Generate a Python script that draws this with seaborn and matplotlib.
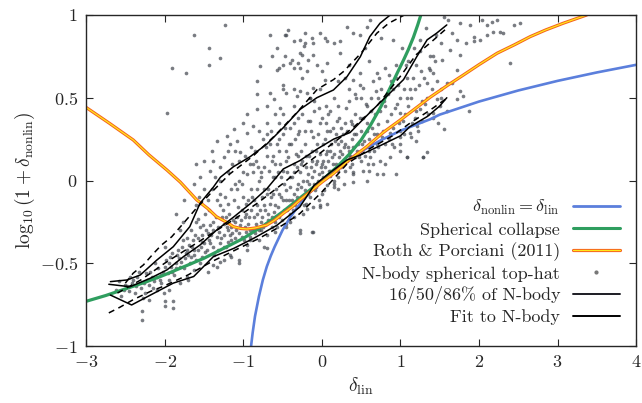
import matplotlib
matplotlib.use("Agg")
import matplotlib.pyplot as plt
import seaborn as sns
import numpy as np
from matplotlib.lines import Line2D

# linear theory: delta_nonlin = delta_lin
lin_x = [-0.9, -0.88, -0.85, -0.8, -0.75, -0.7, -0.65, -0.6, -0.5, -0.4, -0.3, -0.2, -0.1,
         0.0, 0.25, 0.5, 0.75, 1.0, 1.378, 1.5, 2.0, 2.5, 3.0, 3.5, 4.0]
lin_y = [-1.0, -0.92, -0.82, -0.70, -0.60, -0.52, -0.456, -0.40, -0.30, -0.22, -0.155,
         -0.097, -0.046, 0.0, 0.097, 0.176, 0.243, 0.301, 0.37, 0.398, 0.477, 0.544, 0.602,
         0.653, 0.699]

# spherical collapse
sc_x = [-3.0, -2.75, -2.5, -2.25, -2.0, -1.75, -1.5, -1.25, -1.0, -0.75, -0.5, -0.25, 0.0,
        0.2, 0.36, 0.5, 0.614, 0.75, 0.869, 0.96, 1.04, 1.1, 1.165, 1.22, 1.26]
sc_y = [-0.73, -0.695, -0.655, -0.615, -0.57, -0.52, -0.47, -0.41, -0.35, -0.275, -0.19,
        -0.095, 0.0, 0.085, 0.164, 0.245, 0.33, 0.445, 0.56, 0.65, 0.728, 0.79, 0.865,
        0.94, 1.0]

# Roth & Porciani (2011)
rp_x = [-3.0, -2.7, -2.4, -2.2, -1.97, -1.8, -1.59, -1.45, -1.34, -1.2, -1.125, -1.03,
        -0.95, -0.85, -0.7, -0.6, -0.49, -0.38, -0.28, -0.14, 0.0, 0.15, 0.35, 0.57, 0.78,
        1.0, 1.19, 1.378, 1.6, 1.8, 2.0, 2.23, 2.45, 2.65, 2.85, 3.07, 3.22, 3.37]
rp_y = [0.442, 0.345, 0.245, 0.155, 0.063, -0.01, -0.118, -0.17, -0.219, -0.255, -0.279,
        -0.29, -0.293, -0.287, -0.269, -0.24, -0.198, -0.16, -0.118, -0.065, -0.01, 0.043,
        0.125, 0.204, 0.29, 0.366, 0.435, 0.503, 0.575, 0.637, 0.70, 0.769, 0.82, 0.869,
        0.91, 0.95, 0.975, 1.0]

# N-body percentiles
p86_x = [-2.69, -2.48, -2.31, -2.10, -1.89, -1.68, -1.55, -1.38, -1.29, -1.125, -0.912,
         -0.70, -0.489, -0.276, -0.064, 0.148, 0.32, 0.49, 0.61, 0.74, 0.87]
p86_y = [-0.611, -0.601, -0.571, -0.481, -0.40, -0.279, -0.138, -0.04, 0.02, 0.083, 0.144,
         0.22, 0.32, 0.43, 0.50, 0.547, 0.627, 0.748, 0.869, 0.95, 1.0]
p50_x = [-2.71, -2.44, -2.18, -1.97, -1.76, -1.55, -1.34, -1.12, -0.91, -0.70, -0.49, -0.28,
         -0.06, 0.15, 0.36, 0.61, 0.87, 1.04, 1.21, 1.34, 1.46, 1.59]
p50_y = [-0.627, -0.642, -0.59, -0.54, -0.46, -0.39, -0.30, -0.22, -0.14, -0.05, 0.07, 0.12,
         0.19, 0.25, 0.29, 0.41, 0.53, 0.61, 0.75, 0.85, 0.89, 0.94]
p16_x = [-2.69, -2.42, -2.18, -1.89, -1.63, -1.38, -1.12, -0.87, -0.57, -0.28, -0.1, 0.11,
         0.32, 0.49, 0.74, 1.0, 1.12, 1.34, 1.5, 1.59]
p16_y = [-0.692, -0.752, -0.692, -0.62, -0.58, -0.46, -0.41, -0.35, -0.27, -0.16, -0.03,
         0.05, 0.124, 0.154, 0.21, 0.27, 0.325, 0.386, 0.45, 0.5]

# fits to N-body
fit_hi_x = [-2.5, -2.4, -2.27, -2.14, -2.04, -1.91, -1.80, -1.6, -1.38, -1.17, -0.87, -0.6,
            -0.3, -0.06, 0.15, 0.28, 0.5, 0.7, 0.85, 1.05]
fit_hi_y = [-0.62, -0.56, -0.51, -0.44, -0.39, -0.34, -0.28, -0.17, -0.06, 0.04, 0.15, 0.27,
            0.42, 0.55, 0.61, 0.66, 0.77, 0.89, 0.95, 1.0]
fit_mid_x = [-2.6, -2.3, -2.0, -1.7, -1.4, -1.1, -0.8, -0.5, -0.2, 0.1, 0.4, 0.7, 1.0, 1.2,
             1.4, 1.59]
fit_mid_y = [-0.68, -0.60, -0.50, -0.41, -0.32, -0.23, -0.13, -0.02, 0.10, 0.21, 0.32, 0.45,
             0.63, 0.76, 0.84, 0.92]
fit_lo_x = [-2.71, -2.57, -2.40, -2.18, -2.02, -1.7, -1.4, -1.1, -0.8, -0.5, -0.28, 0.0,
            0.32, 0.6, 0.9, 1.12, 1.38, 1.59]
fit_lo_y = [-0.80, -0.766, -0.72, -0.67, -0.64, -0.57, -0.49, -0.42, -0.35, -0.27, -0.20,
            -0.07, 0.10, 0.19, 0.27, 0.346, 0.426, 0.497]

# N-body spherical top-hat points
pts_upper = [(-1.23, 0.94), (-1.62, 0.88), (-1.43, 0.80), (-1.30, 0.74), (-1.91, 0.68),
             (-1.73, 0.65), (-1.43, 0.70), (-1.97, 0.41), (-0.83, 0.60), (-0.82, 0.52),
             (-0.66, 0.88), (-0.57, 0.80), (-0.46, 0.88), (-0.43, 0.91), (-0.36, 0.84),
             (-0.28, 0.85), (-0.21, 0.83), (-0.21, 0.89), (-0.11, 0.83), (-0.02, 0.89),
             (0.04, 0.86), (-0.55, 0.68), (-0.49, 0.70), (-0.40, 0.71), (-0.36, 0.68),
             (-0.28, 0.68), (-0.19, 0.66), (-0.64, 0.75), (-0.47, 0.75), (-0.25, 0.76),
             (-0.30, 0.71), (-0.17, 0.73), (-0.83, 0.43), (-0.70, 0.35), (-0.61, 0.49),
             (-0.53, 0.44), (-0.45, 0.53), (-0.36, 0.55), (-0.28, 0.54), (-0.19, 0.53),
             (-0.11, 0.56), (-0.02, 0.55), (0.04, 0.61), (-1.00, 0.35), (-0.95, 0.29),
             (-0.87, 0.33), (-1.08, 0.24), (-1.04, 0.17), (-1.17, 0.22), (-1.25, 0.14),
             (-1.38, 0.12), (-1.29, 0.08), (-1.42, 0.06), (-1.55, 0.02), (-1.63, -0.02),
             (-1.34, 0.24), (-1.21, 0.27), (-1.12, 0.31), (-0.47, 0.88), (-0.23, 0.81),
             (-0.13, 0.86), (0.06, 0.84), (0.15, 0.83), (0.23, 0.84), (0.32, 0.93),
             (0.40, 0.89), (0.49, 0.88), (0.57, 0.93), (0.61, 0.97), (-0.79, 0.69),
             (-0.57, 0.67), (-0.38, 0.73), (-0.28, 0.77), (-0.11, 0.76), (-0.06, 0.70),
             (0.06, 0.71), (0.23, 0.77), (0.40, 0.61), (0.49, 0.65), (-0.66, 0.53),
             (-0.49, 0.58), (-0.32, 0.51), (-0.15, 0.50)]
pts_right = [(1.55, 0.99), (1.61, 0.97), (1.76, 0.95), (1.89, 0.94), (2.04, 0.97),
             (2.10, 0.94), (2.16, 0.96), (2.23, 0.97), (2.31, 0.89), (2.44, 0.94),
             (2.52, 0.95), (2.27, 0.90), (1.93, 0.87), (1.84, 0.83), (1.72, 0.85),
             (1.65, 0.89), (1.51, 0.83), (1.63, 0.79), (1.76, 0.76), (1.93, 0.84),
             (2.01, 0.85), (2.10, 0.88), (2.18, 0.90), (1.53, 0.73), (1.72, 0.67),
             (1.65, 0.59), (1.76, 0.54), (1.87, 0.42), (1.80, 0.51), (1.72, 0.49),
             (2.40, 0.71), (1.55, 0.31), (1.59, 0.42), (1.42, 0.41), (1.46, 0.49),
             (1.34, 0.17), (1.08, 0.14), (1.29, 0.14), (0.95, 0.04), (0.78, 0.04),
             (0.57, 0.00), (0.70, 0.22), (0.74, 0.12), (0.87, 0.29), (1.00, 0.22),
             (1.12, 0.29), (1.21, 0.33), (1.25, 0.43), (1.00, 0.41), (1.12, 0.55),
             (1.34, 0.59), (1.38, 0.67), (1.42, 0.75), (1.51, 0.55), (1.59, 0.59)]
pts_lower = [(-2.29, -0.84), (-2.29, -0.79), (-1.99, -0.73), (-1.99, -0.76), (-1.89, -0.73),
             (-1.89, -0.77), (-2.01, -0.68), (-1.63, -0.54), (-1.55, -0.50), (-1.34, -0.52),
             (-1.25, -0.48), (-1.06, -0.48), (-1.06, -0.50), (-0.74, -0.40), (-0.70, -0.41),
             (-0.28, -0.32), (-0.13, -0.31), (-0.02, -0.15), (-0.11, -0.16), (-0.45, -0.26),
             (-0.36, -0.22), (-0.57, -0.28), (-0.91, -0.36), (-0.95, -0.39), (-1.17, -0.45),
             (-1.38, -0.51), (-1.72, -0.58), (-1.80, -0.62), (-2.10, -0.66), (-0.28, -0.30),
             (-0.11, -0.31), (-0.19, -0.17), (-0.02, -0.16), (0.06, -0.14), (-0.15, -0.06),
             (0.15, -0.04), (0.28, -0.02), (0.40, -0.01), (0.70, 0.04), (0.11, 0.06),
             (0.36, 0.14), (0.61, 0.14), (0.87, 0.14), (1.08, 0.14), (1.29, 0.14),
             (0.53, 0.06), (-2.2, -0.72), (-1.95, -0.66), (-1.7, -0.60), (-1.45, -0.55),
             (-1.3, -0.49), (-1.15, -0.46), (-0.95, -0.42), (-0.8, -0.36), (-0.6, -0.31),
             (-0.4, -0.25), (-0.2, -0.14), (0.0, -0.08), (0.2, -0.05), (0.4, 0.04),
             (0.6, 0.06), (0.8, 0.10), (1.0, 0.18), (1.2, 0.24)]
pts_band = [(-2.62, -0.66), (-2.55, -0.70), (-2.5, -0.63), (-2.45, -0.67), (-2.58, -0.61),
            (-2.42, -0.62), (-2.38, -0.68), (-2.35, -0.58), (-2.3, -0.65), (-2.28, -0.71),
            (-2.33, -0.55), (-2.22, -0.60), (-2.18, -0.55), (-2.15, -0.65), (-2.12, -0.50),
            (-2.1, -0.58), (-2.25, -0.68), (-2.05, -0.62), (-2.02, -0.55), (-1.98, -0.48),
            (-1.95, -0.60), (-1.92, -0.52), (-1.9, -0.44), (-1.88, -0.57), (-2.0, -0.40),
            (-1.85, -0.50), (-1.82, -0.47), (-1.78, -0.40), (-1.75, -0.53), (-1.72, -0.35),
            (-1.7, -0.45), (-1.68, -0.50), (-1.8, -0.30), (-1.65, -0.40), (-1.76, -0.25),
            (-1.62, -0.42), (-1.58, -0.35), (-1.55, -0.28), (-1.52, -0.46), (-1.5, -0.38),
            (-1.48, -0.20), (-1.6, -0.15), (-1.45, -0.32), (-1.56, -0.10), (-1.5, -0.05),
            (-1.42, -0.38), (-1.38, -0.30), (-1.35, -0.22), (-1.32, -0.42), (-1.3, -0.15),
            (-1.28, -0.35), (-1.4, -0.05), (-1.25, -0.26), (-1.36, 0.02), (-1.3, -0.08),
            (-1.22, -0.40), (-1.26, -0.18), (-1.2, -0.30), (-1.18, -0.20), (-1.15, -0.36),
            (-1.12, -0.12), (-1.1, -0.25), (-1.08, -0.05), (-1.2, 0.05), (-1.05, -0.32),
            (-1.14, 0.10), (-1.02, -0.18), (-1.06, 0.0), (-1.0, -0.10), (-0.98, -0.28),
            (-0.96, -0.20), (-0.94, -0.12), (-0.92, -0.34), (-0.9, -0.05), (-0.88, 0.05),
            (-0.86, -0.22), (-0.84, 0.12), (-0.98, 0.15), (-0.82, -0.15), (-0.8, -0.30),
            (-0.8, 0.0), (-0.9, 0.20), (-0.78, -0.25), (-0.76, -0.10), (-0.74, 0.08),
            (-0.72, -0.18), (-0.7, 0.15), (-0.68, -0.05), (-0.66, 0.22), (-0.64, -0.28),
            (-0.62, 0.02), (-0.6, -0.15), (-0.75, 0.25), (-0.6, 0.10), (-0.7, -0.33),
            (-0.58, -0.22), (-0.56, 0.05), (-0.54, 0.18), (-0.52, -0.10), (-0.5, 0.28),
            (-0.48, -0.02), (-0.46, 0.12), (-0.44, -0.18), (-0.42, 0.22), (-0.55, 0.35),
            (-0.4, 0.02), (-0.45, -0.28), (-0.5, 0.40), (-0.38, -0.12), (-0.36, 0.10),
            (-0.34, 0.25), (-0.32, -0.05), (-0.3, 0.38), (-0.28, 0.05), (-0.26, 0.18),
            (-0.24, -0.20), (-0.22, 0.30), (-0.35, 0.45), (-0.2, 0.08), (-0.25, -0.10),
            (-0.3, 0.15), (-0.18, -0.08), (-0.16, 0.15), (-0.14, 0.30), (-0.12, 0.02),
            (-0.1, 0.42), (-0.08, 0.10), (-0.06, 0.22), (-0.04, -0.12), (-0.02, 0.35),
            (-0.15, 0.50), (0.0, 0.05), (-0.05, 0.28), (-0.1, -0.02), (0.02, 0.12),
            (0.04, 0.25), (0.06, -0.03), (0.08, 0.40), (0.1, 0.18), (0.12, 0.05),
            (0.14, 0.32), (0.16, 0.50), (0.18, 0.10), (0.2, 0.22), (0.05, 0.45),
            (0.15, 0.00), (0.22, 0.38), (0.25, 0.08), (0.28, 0.20), (0.3, 0.35),
            (0.32, 0.12), (0.35, 0.48), (0.38, 0.25), (0.4, 0.05), (0.42, 0.40),
            (0.45, 0.18), (0.48, 0.58), (0.3, 0.62), (0.5, 0.30), (0.36, 0.15),
            (0.55, 0.15), (0.58, 0.35), (0.6, 0.25), (0.62, 0.50), (0.65, 0.10),
            (0.68, 0.40), (0.7, 0.65), (0.72, 0.20), (0.75, 0.55), (0.78, 0.30),
            (0.6, 0.72), (0.8, 0.45), (0.66, 0.28), (0.85, 0.25), (0.88, 0.40),
            (0.9, 0.55), (0.92, 0.20), (0.95, 0.70), (0.98, 0.35), (1.0, 0.50),
            (1.02, 0.80), (1.05, 0.28), (1.08, 0.62), (0.9, 0.85), (1.1, 0.45),
            (1.15, 0.35), (1.18, 0.55), (1.2, 0.70), (1.22, 0.30), (1.25, 0.85),
            (1.28, 0.48), (1.3, 0.62), (1.32, 0.92), (1.35, 0.40), (1.38, 0.75),
            (1.4, 0.55), (1.45, 0.88), (1.48, 0.35)]
pts_core = [(-2.48, -0.64), (-2.4, -0.60), (-2.36, -0.64), (-2.2, -0.63), (-2.16, -0.58),
            (-2.08, -0.53), (-2.06, -0.60), (-1.96, -0.56), (-1.94, -0.50), (-1.86, -0.53),
            (-1.84, -0.45), (-1.8, -0.52), (-1.74, -0.47), (-1.72, -0.42), (-1.66, -0.46),
            (-1.64, -0.36), (-1.6, -0.48), (-1.58, -0.42), (-1.54, -0.40), (-1.52, -0.33),
            (-1.46, -0.42), (-1.44, -0.36), (-1.42, -0.27), (-1.38, -0.40), (-1.34, -0.34),
            (-1.32, -0.28), (-1.3, -0.38), (-1.24, -0.33), (-1.22, -0.22), (-1.2, -0.37),
            (-1.16, -0.28), (-1.14, -0.32), (-1.1, -0.35), (-1.08, -0.22), (-1.04, -0.27),
            (-1.02, -0.34), (-0.98, -0.22), (-0.96, -0.31), (-0.94, -0.26), (-0.9, -0.18),
            (-0.88, -0.29), (-0.86, -0.12), (-0.84, -0.26), (-0.82, -0.20), (-0.78, -0.30),
            (-0.76, -0.22), (-0.74, -0.15), (-0.72, -0.27), (-0.7, -0.08), (-0.68, -0.20),
            (-0.66, -0.14), (-0.64, -0.22), (-0.62, -0.08), (-0.6, -0.25), (-0.58, -0.05),
            (-0.56, -0.16), (-0.54, -0.22), (-0.52, 0.02), (-0.5, -0.12), (-0.48, -0.18),
            (-0.46, -0.06), (-0.44, 0.05), (-0.42, -0.12), (-0.4, -0.20), (-0.38, 0.02),
            (-0.36, -0.08), (-0.34, -0.15), (-0.32, 0.08), (-0.3, -0.02), (-0.28, -0.12),
            (-0.26, 0.10), (-0.24, 0.00), (-0.22, -0.06), (-0.2, 0.15), (-0.18, 0.04),
            (-0.16, -0.02), (-0.14, 0.08), (-0.12, 0.18), (-0.1, 0.06), (-0.08, -0.04),
            (-0.06, 0.12), (-0.04, 0.04), (-0.02, 0.16), (0.0, 0.10), (0.02, 0.02),
            (0.04, 0.08), (0.06, 0.18), (0.08, 0.12), (0.1, 0.03), (0.12, 0.22),
            (0.14, 0.10), (0.16, 0.16), (0.18, 0.28), (0.2, 0.06), (0.22, 0.14),
            (0.24, 0.24), (0.26, 0.16), (0.28, 0.10), (0.3, 0.22), (0.32, 0.30),
            (0.34, 0.18), (0.36, 0.08), (0.38, 0.34), (0.4, 0.20), (0.42, 0.14),
            (0.44, 0.28), (0.46, 0.22), (0.5, 0.12), (0.52, 0.38), (0.54, 0.24),
            (0.56, 0.46), (0.6, 0.18), (0.64, 0.32), (0.7, 0.28), (0.74, 0.42),
            (0.8, 0.22), (0.84, 0.52), (0.9, 0.32), (0.96, 0.46), (1.0, 0.30),
            (1.06, 0.40), (1.14, 0.50), (1.2, 0.42), (1.26, 0.66), (1.34, 0.50),
            (1.42, 0.65), (1.5, 0.45), (-1.6, -0.25), (-1.45, -0.12), (-1.3, 0.0),
            (-1.15, -0.05), (-1.0, 0.05), (-0.85, 0.18), (-0.7, 0.28), (-0.55, 0.25),
            (-0.4, 0.32), (-0.25, 0.40), (-0.1, 0.48), (0.05, 0.35), (0.2, 0.45),
            (0.35, 0.55), (0.5, 0.50), (0.65, 0.60), (0.8, 0.68), (0.95, 0.62),
            (1.1, 0.72), (1.25, 0.78), (-1.05, 0.12), (-0.92, 0.10), (-0.78, 0.05),
            (-0.62, 0.15), (-0.45, 0.18), (-0.3, 0.28), (-0.15, 0.36), (0.0, 0.38),
            (0.1, 0.30), (0.25, 0.32), (0.42, 0.52), (0.58, 0.45), (0.72, 0.50),
            (0.88, 0.60), (1.04, 0.55), (1.16, 0.62)]
pts_extra = [(-2.52, -0.66), (-2.44, -0.58), (-2.26, -0.62), (-2.24, -0.56), (-2.14, -0.61),
             (-2.04, -0.57), (-2.0, -0.52), (-1.93, -0.46), (-1.9, -0.55), (-1.83, -0.42),
             (-1.79, -0.49), (-1.77, -0.36), (-1.73, -0.44), (-1.69, -0.39), (-1.67, -0.30),
             (-1.63, -0.45), (-1.61, -0.33), (-1.57, -0.23), (-1.53, -0.37), (-1.51, -0.27),
             (-1.49, -0.43), (-1.47, -0.30), (-1.43, -0.18), (-1.41, -0.33), (-1.39, -0.25),
             (-1.37, -0.45), (-1.33, -0.12), (-1.31, -0.31), (-1.27, -0.22), (-1.25, -0.40),
             (-1.23, -0.10), (-1.21, -0.28), (-1.19, -0.14), (-1.17, -0.33), (-1.13, -0.24),
             (-1.11, -0.02), (-1.09, -0.30), (-1.07, -0.16), (-1.03, -0.24), (-1.01, -0.02),
             (-0.99, -0.36), (-0.97, -0.14), (-0.95, 0.04), (-0.93, -0.22), (-0.91, -0.30),
             (-0.89, -0.10), (-0.87, 0.10), (-0.85, -0.32), (-0.83, -0.05), (-0.81, 0.08),
             (-0.79, -0.18), (-0.77, 0.02), (-0.75, -0.28), (-0.73, -0.05), (-0.71, 0.20),
             (-0.69, -0.24), (-0.67, 0.06), (-0.65, -0.10), (-0.63, 0.12), (-0.61, -0.19),
             (-0.59, 0.02), (-0.57, 0.22), (-0.55, -0.08), (-0.53, 0.10), (-0.51, -0.24),
             (-0.49, 0.06), (-0.47, 0.32), (-0.45, -0.12), (-0.43, 0.14), (-0.41, -0.04),
             (-0.39, 0.22), (-0.37, -0.18), (-0.35, 0.05), (-0.33, 0.16), (-0.31, -0.10),
             (-0.29, 0.30), (-0.27, -0.04), (-0.25, 0.12), (-0.23, -0.15), (-0.21, 0.22),
             (-0.19, 0.00), (-0.17, 0.36), (-0.15, -0.10), (-0.13, 0.12), (-0.11, 0.26),
             (-0.09, -0.06), (-0.07, 0.18), (-0.05, 0.00), (-0.03, 0.44), (-0.01, 0.08),
             (0.01, 0.22), (0.03, -0.06), (0.05, 0.16), (0.07, 0.30), (0.09, 0.06),
             (0.11, 0.42), (0.13, 0.14), (0.15, -0.02), (0.17, 0.24), (0.19, 0.36),
             (0.21, 0.02), (0.23, 0.18), (0.27, 0.28), (0.29, 0.06), (0.31, 0.44),
             (0.33, 0.20), (0.37, 0.36), (0.39, 0.10), (0.41, 0.28), (0.43, 0.50),
             (0.47, 0.14), (0.49, 0.38), (0.51, 0.22), (0.53, 0.56), (0.57, 0.30),
             (0.59, 0.10), (0.63, 0.42), (0.67, 0.18), (0.69, 0.54), (0.71, 0.34),
             (0.73, 0.62), (0.77, 0.26), (0.79, 0.48), (0.83, 0.36), (0.86, 0.64),
             (0.89, 0.22), (0.93, 0.44), (0.97, 0.58), (0.99, 0.26), (1.03, 0.36),
             (1.07, 0.70), (1.09, 0.50), (1.13, 0.26), (1.17, 0.80), (1.19, 0.38),
             (1.23, 0.58), (1.27, 0.36), (1.31, 0.46), (1.36, 0.68), (1.41, 0.38),
             (1.44, 0.72), (1.47, 0.60), (1.52, 0.50), (-1.4, 0.18), (-1.6, 0.10),
             (-1.75, -0.12), (-1.85, -0.2), (-1.2, 0.18), (-0.95, 0.40), (-0.7, 0.45),
             (-0.5, 0.55), (-0.25, 0.62), (0.0, 0.66), (0.2, 0.60), (0.35, 0.70),
             (0.55, 0.80), (0.75, 0.86), (-0.8, 0.30), (-0.6, 0.40), (-0.35, 0.35),
             (-0.65, 0.30), (-1.1, 0.18), (-1.5, 0.12)]

nbody = np.array(pts_upper + pts_right + pts_lower + pts_band + pts_core + pts_extra)

sns.set_style("ticks")
plt.rcParams["font.family"] = "cmr10"
plt.rcParams["mathtext.fontset"] = "cm"
plt.rcParams["axes.unicode_minus"] = False

fig = plt.figure(figsize=(6.42, 4.03), dpi=100)
ax = fig.add_axes([0.134, 0.1414, 0.857, 0.8214])

blue = "#5b7fdc"
green = "#2f9e5f"
orange = "#f5601e"
yellow = "#ffe81a"

sns.lineplot(x=lin_x, y=lin_y, color=blue, lw=1.9, estimator=None, ax=ax)
sns.lineplot(x=sc_x, y=sc_y, color=green, lw=2.3, estimator=None, ax=ax)
sns.lineplot(x=rp_x, y=rp_y, color=orange, lw=2.3, estimator=None, ax=ax)
sns.lineplot(x=rp_x, y=rp_y, color=yellow, lw=0.9, estimator=None, ax=ax)
sns.scatterplot(x=nbody[:, 0], y=nbody[:, 1], color="#454a52", s=7, alpha=0.72,
                linewidth=0, ax=ax)

for px, py in [(p16_x, p16_y), (p50_x, p50_y), (p86_x, p86_y)]:
    sns.lineplot(x=px, y=py, color="black", lw=1.1, estimator=None, sort=False, ax=ax)
for fx, fy in [(fit_lo_x, fit_lo_y), (fit_mid_x, fit_mid_y), (fit_hi_x, fit_hi_y)]:
    sns.lineplot(x=fx, y=fy, color="black", lw=1.1, estimator=None, ax=ax,
                 linestyle=(0, (4, 3)))

ax.set_xlim(-3, 4)
ax.set_ylim(-1, 1)
ax.set_xticks(range(-3, 5))
ax.set_xticklabels([rf"${v}$" for v in range(-3, 5)])
ax.set_yticks([-1, -0.5, 0, 0.5, 1])
ax.set_yticklabels([r"$-1$", r"$-0.5$", r"$0$", r"$0.5$", r"$1$"])
ax.tick_params(direction="in", top=True, right=True, length=5, width=0.8,
               labelsize=13, pad=6)
for sp in ax.spines.values():
    sp.set_linewidth(1.0)
ax.set_xlabel(r"$\delta_{\rm lin}$", fontsize=14, labelpad=4)
ax.set_ylabel(r"$\log_{10}(1+\delta_{\rm nonlin})$", fontsize=14, labelpad=2)

h_lin = Line2D([], [], color=blue, lw=2.0)
h_sc = Line2D([], [], color=green, lw=2.2)
h_rp = (Line2D([], [], color=orange, lw=2.3), Line2D([], [], color=yellow, lw=0.9))
h_nb = Line2D([], [], color="#777777", marker="o", ms=2, lw=0)
h_pc = Line2D([], [], color="#1c1c24", lw=1.4)
h_fit = Line2D([], [], color="black", lw=1.4)
ax.legend([h_lin, h_sc, h_rp, h_nb, h_pc, h_fit],
          [r"$\delta_{\rm nonlin}=\delta_{\rm lin}$", "Spherical collapse",
           "Roth & Porciani (2011)", "N-body spherical top-hat",
           "16/50/86% of N-body", "Fit to N-body"],
          loc="center right", bbox_to_anchor=(0.97, 0.255), frameon=False,
          markerfirst=False, fontsize=13, handlelength=2.6, handletextpad=0.7,
          labelspacing=0.26, borderpad=0, borderaxespad=0)

fig.savefig("out.png", dpi=100)
